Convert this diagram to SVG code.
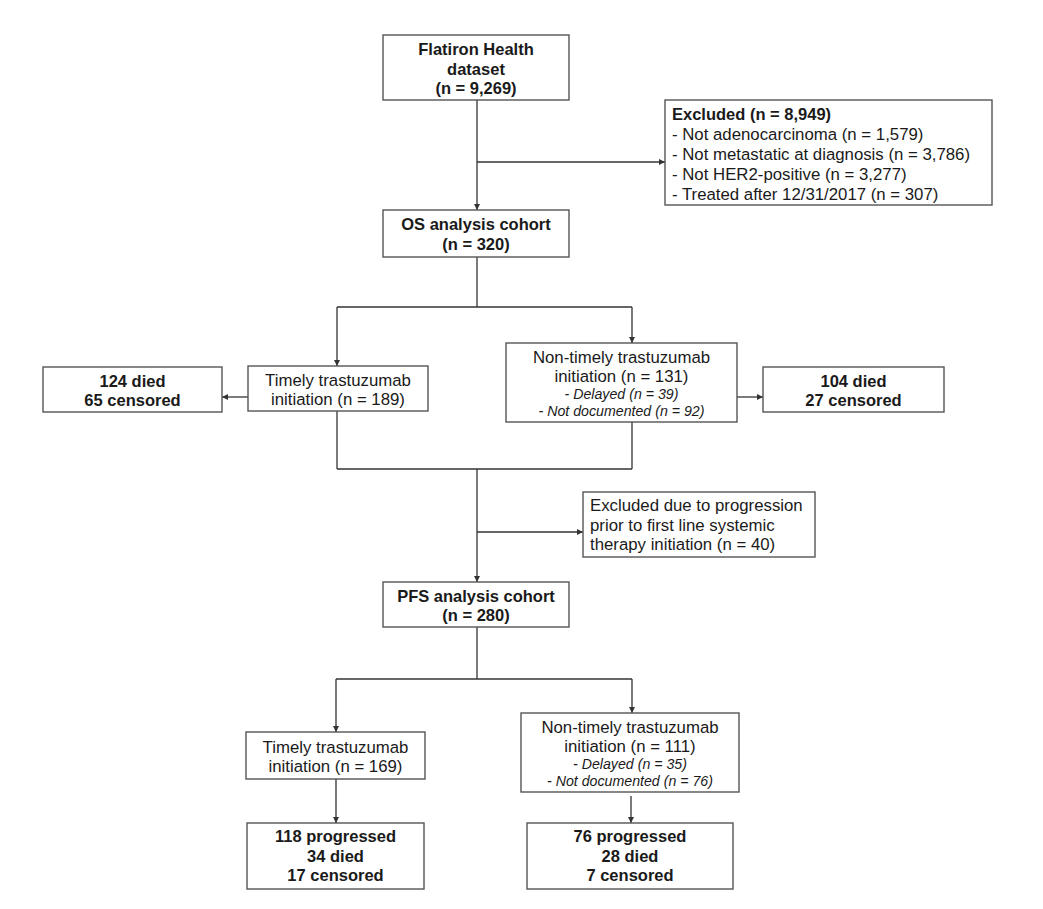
<svg xmlns="http://www.w3.org/2000/svg" width="1043" height="909" viewBox="0 0 1043 909">
<defs>
<marker id="ah" viewBox="0 0 10 10" refX="10" refY="5" markerWidth="6" markerHeight="6" markerUnits="userSpaceOnUse" orient="auto">
<path d="M0,0 L10,5 L0,10 z" fill="#333"/>
</marker>
<style>
.box{fill:#fff;stroke:#555;stroke-width:1.4}
.t{font-family:"Liberation Sans",Arial,sans-serif;font-size:16.8px;fill:#1a1a1a}
.b{font-weight:bold;font-size:16.5px}
.c{text-anchor:middle}
.i{font-style:italic;font-size:14.2px}
.ln{fill:none;stroke:#333;stroke-width:1.3}
.ar{fill:none;stroke:#333;stroke-width:1.3;marker-end:url(#ah)}
</style>
</defs>
<rect width="1043" height="909" fill="#fff"/>
<g id="connectors">
<line class="ar" x1="477" y1="100" x2="477" y2="210"/>
<line class="ar" x1="477" y1="162" x2="665" y2="162"/>
<line class="ln" x1="477" y1="257" x2="477" y2="307"/>
<line class="ln" x1="337" y1="307" x2="632" y2="307"/>
<line class="ar" x1="337" y1="307" x2="337" y2="366"/>
<line class="ar" x1="632" y1="307" x2="632" y2="343"/>
<line class="ar" x1="248" y1="397" x2="222" y2="397"/>
<line class="ar" x1="737" y1="397" x2="763" y2="397"/>
<line class="ln" x1="337" y1="411" x2="337" y2="469"/>
<line class="ln" x1="632" y1="422" x2="632" y2="469"/>
<line class="ln" x1="337" y1="469" x2="632" y2="469"/>
<line class="ar" x1="477" y1="469" x2="477" y2="582"/>
<line class="ar" x1="477" y1="532" x2="583" y2="532"/>
<line class="ln" x1="477" y1="627" x2="477" y2="679"/>
<line class="ln" x1="336" y1="679" x2="632" y2="679"/>
<line class="ar" x1="336" y1="679" x2="336" y2="732"/>
<line class="ar" x1="632" y1="679" x2="632" y2="713"/>
<line class="ar" x1="336" y1="779" x2="336" y2="823"/>
<line class="ar" x1="631" y1="796" x2="631" y2="823"/>
</g>
<g id="flatiron">
<rect class="box" x="383" y="35" width="186" height="65"/>
<text class="t b c" x="476" y="54.5">Flatiron Health</text>
<text class="t b c" x="476" y="74.5">dataset</text>
<text class="t b c" x="476" y="94">(n = 9,269)</text>
</g>
<g id="excluded">
<rect class="box" x="665" y="100" width="327" height="105"/>
<text class="t b" x="672" y="120">Excluded (n = 8,949)</text>
<text class="t" x="672" y="140">- Not adenocarcinoma (n = 1,579)</text>
<text class="t" x="672" y="160">- Not metastatic at diagnosis (n = 3,786)</text>
<text class="t" x="672" y="180">- Not HER2-positive (n = 3,277)</text>
<text class="t" x="672" y="199.5">- Treated after 12/31/2017 (n = 307)</text>
</g>
<g id="os">
<rect class="box" x="383" y="210" width="186" height="47"/>
<text class="t b c" x="476" y="230">OS analysis cohort</text>
<text class="t b c" x="476" y="249.5">(n = 320)</text>
</g>
<g id="timely1">
<rect class="box" x="248" y="366" width="180" height="45"/>
<text class="t c" x="338" y="385.5">Timely trastuzumab</text>
<text class="t c" x="338" y="404.5">initiation (n = 189)</text>
</g>
<g id="died1">
<rect class="box" x="43" y="367" width="179" height="45"/>
<text class="t b c" x="132.5" y="387">124 died</text>
<text class="t b c" x="132.5" y="406">65 censored</text>
</g>
<g id="nontimely1">
<rect class="box" x="506" y="343" width="231" height="79"/>
<text class="t c" x="621.5" y="363">Non-timely trastuzumab</text>
<text class="t c" x="621.5" y="382">initiation (n = 131)</text>
<text class="t i c" x="621.5" y="399">- Delayed (n = 39)</text>
<text class="t i c" x="621.5" y="415.5">- Not documented (n = 92)</text>
</g>
<g id="died2">
<rect class="box" x="763" y="367" width="181" height="45"/>
<text class="t b c" x="853.5" y="387">104 died</text>
<text class="t b c" x="853.5" y="406">27 censored</text>
</g>
<g id="progression">
<rect class="box" x="583" y="492" width="232" height="65"/>
<text class="t" x="590" y="511">Excluded due to progression</text>
<text class="t" x="590" y="530.5">prior to first line systemic</text>
<text class="t" x="590" y="550">therapy initiation (n = 40)</text>
</g>
<g id="pfs">
<rect class="box" x="383" y="582" width="186" height="45"/>
<text class="t b c" x="476" y="601.5">PFS analysis cohort</text>
<text class="t b c" x="476" y="620.5">(n = 280)</text>
</g>
<g id="timely2">
<rect class="box" x="246" y="732" width="179" height="47"/>
<text class="t c" x="335.5" y="753">Timely trastuzumab</text>
<text class="t c" x="335.5" y="772">initiation (n = 169)</text>
</g>
<g id="nontimely2">
<rect class="box" x="521" y="713" width="218" height="79"/>
<text class="t c" x="630" y="733">Non-timely trastuzumab</text>
<text class="t c" x="630" y="752">initiation (n = 111)</text>
<text class="t i c" x="630" y="769">- Delayed (n = 35)</text>
<text class="t i c" x="630" y="785.5">- Not documented (n = 76)</text>
</g>
<g id="outcome1">
<rect class="box" x="247" y="823" width="177" height="66"/>
<text class="t b c" x="335.5" y="842">118 progressed</text>
<text class="t b c" x="335.5" y="861.5">34 died</text>
<text class="t b c" x="335.5" y="881">17 censored</text>
</g>
<g id="outcome2">
<rect class="box" x="527" y="823" width="206" height="66"/>
<text class="t b c" x="630" y="842">76 progressed</text>
<text class="t b c" x="630" y="861.5">28 died</text>
<text class="t b c" x="630" y="881">7 censored</text>
</g>
</svg>
